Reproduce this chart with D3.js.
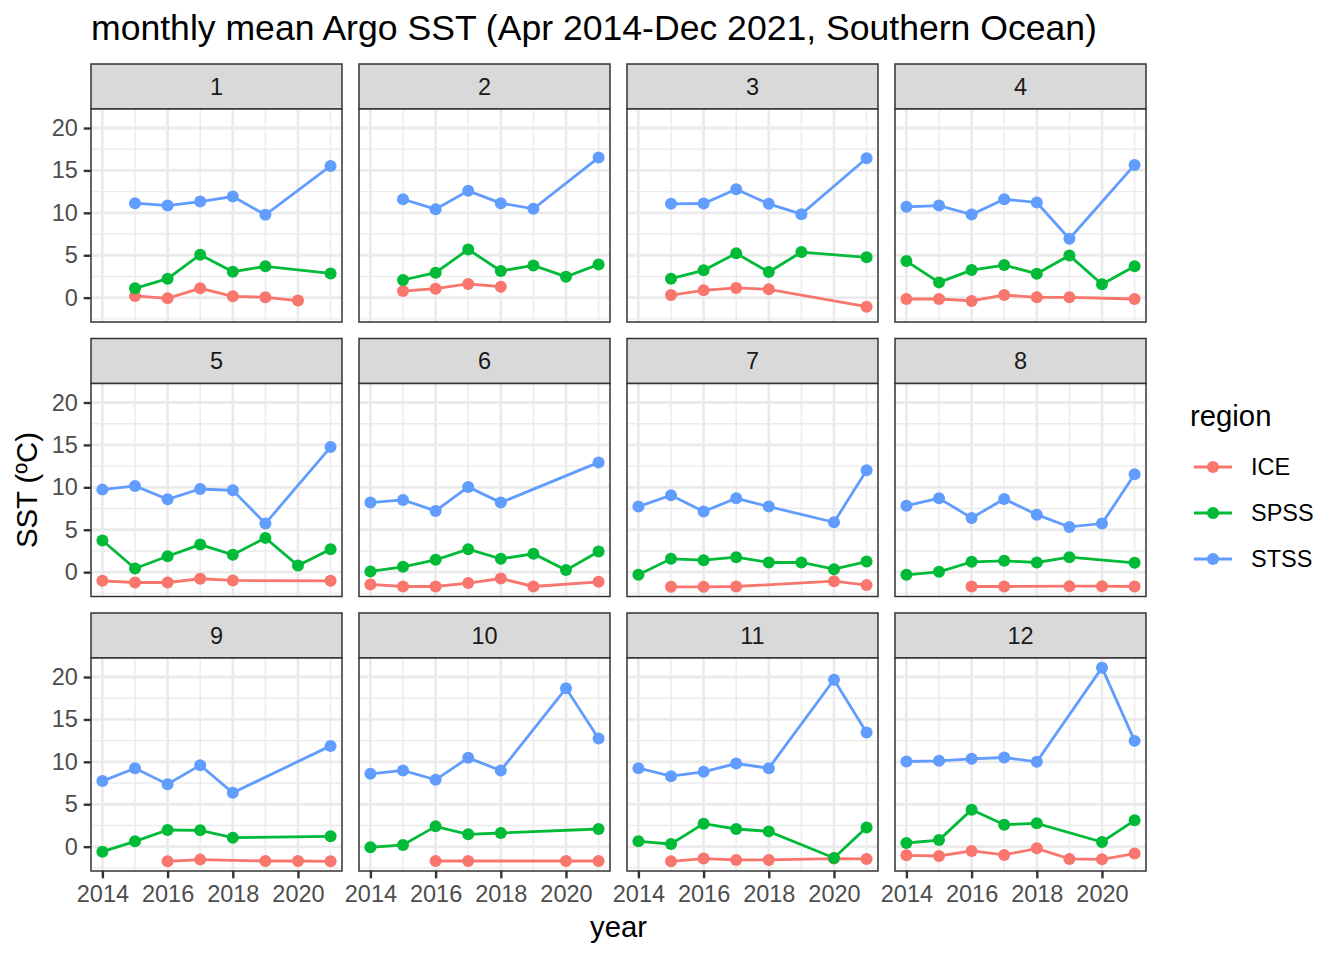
<!DOCTYPE html>
<html>
<head>
<meta charset="utf-8">
<script src="https://cdn.jsdelivr.net/npm/d3@7"></script>
<style>
  body { margin: 0; background: #fff; }
  svg { font-family: "Liberation Sans", Arial, sans-serif; }
</style>
</head>
<body>
<svg id="chart" width="1344" height="960"></svg>
<script>
const years = [2014, 2015, 2016, 2017, 2018, 2019, 2020, 2021]
const months = [1, 2, 3, 4, 5, 6, 7, 8, 9, 10, 11, 12]
const regions = ['ICE', 'SPSS', 'STSS']
const colors = ['#F8766D', '#00BA38', '#619CFF']

// one row per month, one value per year (null = no data)
const ICE = [
    [null, 0.20, -0.08, 1.10, 0.16, 0.04, -0.35, null],
    [null, 0.78, 1.06, 1.61, 1.29, null, null, null],
    [null, 0.31, 0.86, 1.14, 0.98, null, null, -1.06],
    [-0.16, -0.16, -0.39, 0.31, 0.04, 0.04, null, -0.16],
    [-1.02, -1.22, -1.22, -0.78, -0.98, null, null, -1.02],
    [-1.45, -1.69, -1.69, -1.29, -0.75, -1.69, null, -1.14],
    [null, -1.73, -1.73, -1.69, null, null, -1.06, -1.53],
    [null, null, -1.69, -1.69, null, -1.65, -1.65, -1.69],
    [null, null, -1.73, -1.53, null, -1.69, -1.69, -1.73],
    [null, null, -1.69, -1.69, null, null, -1.69, -1.69],
    [null, -1.73, -1.41, -1.57, -1.57, null, -1.41, -1.45],
    [-1.02, -1.10, -0.51, -0.98, -0.20, -1.45, -1.49, -0.82]
]
const SPSS = [
    [null, 1.10, 2.24, 5.06, 3.06, 3.69, null, 2.86],
    [null, 2.08, 2.94, 5.69, 3.14, 3.80, 2.47, 3.92],
    [null, 2.24, 3.22, 5.22, 3.02, 5.37, null, 4.75],
    [4.31, 1.80, 3.25, 3.84, 2.82, 4.98, 1.57, 3.69],
    [3.73, 0.43, 1.88, 3.25, 2.04, 4.04, 0.78, 2.71],
    [0.08, 0.63, 1.45, 2.71, 1.57, 2.16, 0.24, 2.43],
    [-0.31, 1.57, 1.41, 1.76, 1.14, 1.14, 0.35, 1.25],
    [-0.31, 0.04, 1.22, 1.33, 1.14, 1.76, null, 1.10],
    [-0.59, 0.63, 1.96, 1.92, 1.06, null, null, 1.22],
    [-0.08, 0.20, 2.39, 1.45, 1.61, null, null, 2.08],
    [0.63, 0.31, 2.71, 2.08, 1.80, null, -1.33, 2.27],
    [0.43, 0.78, 4.35, 2.59, 2.75, null, 0.55, 3.10]
]
const STSS = [
    [null, 11.14, 10.86, 11.33, 11.92, 9.76, null, 15.53],
    [null, 11.60, 10.43, 12.59, 11.14, 10.47, null, 16.51],
    [null, 11.06, 11.10, 12.78, 11.06, 9.84, null, 16.43],
    [10.71, 10.86, 9.80, 11.60, 11.22, 6.94, null, 15.65],
    [9.73, 10.16, 8.59, 9.80, 9.65, 5.73, null, 14.75],
    [8.20, 8.51, 7.22, 10.04, 8.20, null, null, 12.94],
    [7.73, 9.06, 7.14, 8.71, 7.73, null, 5.88, 12.00],
    [7.84, 8.71, 6.39, 8.63, 6.78, 5.33, 5.73, 11.53],
    [7.73, 9.25, 7.37, 9.61, 6.35, null, null, 11.88],
    [8.59, 8.98, 7.88, 10.47, 8.98, null, 18.67, 12.75],
    [9.25, 8.31, 8.82, 9.80, 9.25, null, 19.69, 13.45],
    [10.04, 10.12, 10.35, 10.51, 10.00, null, 21.10, 12.47]
]

const xMajor = [2014, 2016, 2018, 2020]
const xMinor = [2015, 2017, 2019, 2021]
const yMajor = [0, 5, 10, 15, 20]
const yMinor = [-2.5, 2.5, 7.5, 12.5, 17.5]

const title = 'monthly mean Argo SST (Apr 2014-Dec 2021, Southern Ocean)'

const series = { ICE: ICE, SPSS: SPSS, STSS: STSS }

// layout (ggplot theme_bw, rendered at 2x)
const left0 = 91, top0 = 64
const panelW = 251, panelH = 213, stripH = 45
const colStep = 268, rowStep = 274.5
const fTick = 23.5, fBase = 29.3, fTitle = 35.6
const tickLen = 7.3

const svg = d3.select('#chart')

// scales with ggplot's 5% expansion
const allVals = regions.flatMap(r => series[r].flat()).filter(v => v !== null)
const [yLo, yHi] = d3.extent(allVals)
const yPad = (yHi - yLo) * 0.05
const xPad = (d3.max(years) - d3.min(years)) * 0.05

const x = d3.scaleLinear()
    .domain([d3.min(years) - xPad, d3.max(years) + xPad])
    .range([0, panelW])
const y = d3.scaleLinear()
    .domain([yLo - yPad, yHi + yPad])
    .range([panelH, 0])

const line = d3.line()
    .defined(d => d.v !== null)
    .x(d => x(d.year))
    .y(d => y(d.v))

months.forEach((m, i) => {
    const col = i % 4, row = Math.floor(i / 4)
    const px = left0 + col * colStep
    const py = top0 + row * rowStep + stripH

    // strip
    const strip = svg.append('g').attr('transform', `translate(${px},${py - stripH})`)
    strip.append('rect')
        .attr('width', panelW).attr('height', stripH)
        .attr('fill', '#D9D9D9').attr('stroke', '#333333').attr('stroke-width', 1.5)
    strip.append('text')
        .attr('x', panelW / 2).attr('y', stripH / 2 + fTick * 0.36)
        .attr('text-anchor', 'middle')
        .attr('font-size', fTick).attr('fill', '#1A1A1A')
        .text(m)

    const g = svg.append('g').attr('transform', `translate(${px},${py})`)

    g.append('rect').attr('width', panelW).attr('height', panelH).attr('fill', '#fff')

    // grid
    g.selectAll('.ymin').data(yMinor).enter().append('line')
        .attr('x1', 0).attr('x2', panelW)
        .attr('y1', d => y(d)).attr('y2', d => y(d))
        .attr('stroke', '#EBEBEB').attr('stroke-width', 1.4)
    g.selectAll('.xmin').data(xMinor).enter().append('line')
        .attr('y1', 0).attr('y2', panelH)
        .attr('x1', d => x(d)).attr('x2', d => x(d))
        .attr('stroke', '#EBEBEB').attr('stroke-width', 1.4)
    g.selectAll('.ymaj').data(yMajor).enter().append('line')
        .attr('x1', 0).attr('x2', panelW)
        .attr('y1', d => y(d)).attr('y2', d => y(d))
        .attr('stroke', '#EBEBEB').attr('stroke-width', 2.8)
    g.selectAll('.xmaj').data(xMajor).enter().append('line')
        .attr('y1', 0).attr('y2', panelH)
        .attr('x1', d => x(d)).attr('x2', d => x(d))
        .attr('stroke', '#EBEBEB').attr('stroke-width', 2.8)

    const pts = regions.map(r => years.map((yr, j) => ({ year: yr, v: series[r][i][j] })))

    // lines first, then points (geom_line + geom_point)
    pts.forEach((p, k) => {
        g.append('path')
            .datum(p.filter(d => d.v !== null))
            .attr('d', line)
            .attr('fill', 'none')
            .attr('stroke', colors[k])
            .attr('stroke-width', 2.8)
    })
    pts.forEach((p, k) => {
        g.selectAll('.pt' + k).data(p.filter(d => d.v !== null)).enter().append('circle')
            .attr('cx', d => x(d.year))
            .attr('cy', d => y(d.v))
            .attr('r', 6)
            .attr('fill', colors[k])
    })

    g.append('rect')
        .attr('width', panelW).attr('height', panelH)
        .attr('fill', 'none').attr('stroke', '#333333').attr('stroke-width', 1.5)

    // axes only on outer panels
    if (col === 0) {
        const ay = g.append('g')
            .call(d3.axisLeft(y).tickValues(yMajor).tickSize(tickLen).tickPadding(5.9))
        ay.select('.domain').remove()
        ay.selectAll('line').attr('stroke', '#333333').attr('stroke-width', 2.4)
        ay.selectAll('text')
            .attr('font-size', fTick).attr('font-family', null).attr('fill', '#4D4D4D')
    }
    if (row === 2) {
        const ax = g.append('g').attr('transform', `translate(0,${panelH})`)
            .call(d3.axisBottom(x).tickValues(xMajor).tickFormat(d3.format('d')).tickSize(tickLen).tickPadding(7.5))
        ax.select('.domain').remove()
        ax.selectAll('line').attr('stroke', '#333333').attr('stroke-width', 2.4)
        ax.selectAll('text')
            .attr('font-size', fTick).attr('font-family', null).attr('fill', '#4D4D4D')
    }
})

// titles
svg.append('text')
    .attr('x', left0).attr('y', 40)
    .attr('font-size', fTitle).attr('fill', '#000')
    .text(title)

svg.append('text')
    .attr('x', left0 + (3 * colStep + panelW) / 2).attr('y', 937)
    .attr('text-anchor', 'middle')
    .attr('font-size', fBase).attr('fill', '#000')
    .text('year')

svg.append('text')
    .attr('transform', 'translate(37,490) rotate(-90)')
    .attr('text-anchor', 'middle')
    .attr('font-size', fBase).attr('fill', '#000')
    .text('SST (ºC)')

// legend
const legend = svg.append('g').attr('transform', 'translate(1190,0)')
legend.append('text')
    .attr('x', 0).attr('y', 426)
    .attr('font-size', fBase).attr('fill', '#000')
    .text('region')

const keys = legend.selectAll('.key').data(regions).enter().append('g')
    .attr('transform', (d, k) => `translate(0,${467 + k * 46})`)
keys.append('line')
    .attr('x1', 4).attr('x2', 42)
    .attr('stroke', (d, k) => colors[k]).attr('stroke-width', 2.8)
keys.append('circle')
    .attr('cx', 23).attr('r', 6)
    .attr('fill', (d, k) => colors[k])
keys.append('text')
    .attr('x', 61).attr('y', fTick * 0.36)
    .attr('font-size', fTick).attr('fill', '#000')
    .text(d => d)
</script>
</body>
</html>
